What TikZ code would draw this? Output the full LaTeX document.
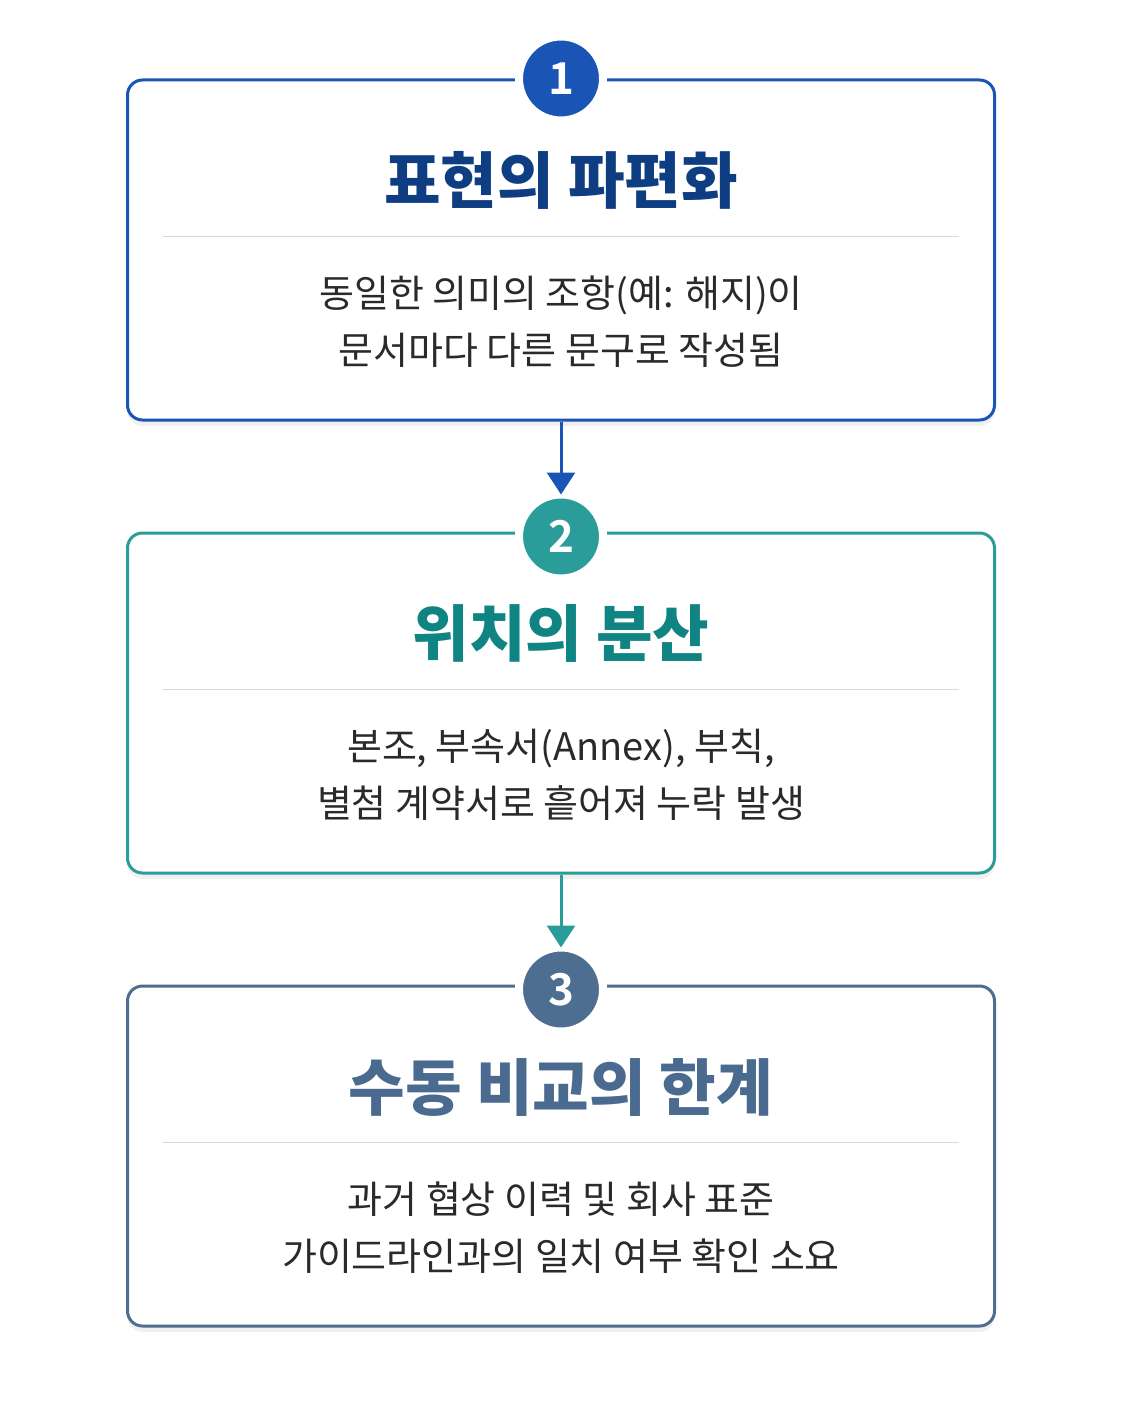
\documentclass[tikz,border=0pt]{standalone}
\usepackage{fontspec}
\setmainfont{Noto Sans CJK KR}[BoldFont={Noto Sans CJK KR Bold}]
\newfontfamily\heavyfont{Noto Sans CJK KR Black}
\usepackage{tikz}
\usetikzlibrary{arrows.meta, positioning, shadows, calc}

\definecolor{blueline}{HTML}{1A55B5}
\definecolor{bluetitle}{HTML}{0F3D82}
\definecolor{tealline}{HTML}{2A9C99}
\definecolor{tealtitle}{HTML}{0F8483}
\definecolor{slateline}{HTML}{4D6D91}
\definecolor{slatetitle}{HTML}{4A6A8F}
\definecolor{bodytext}{HTML}{2A2A2A}
\definecolor{sepline}{HTML}{D6D9DD}

\begin{document}
\begin{tikzpicture}[
            block/.style={rectangle, draw, line width=0.06cm, rounded corners=0.3cm, fill=white,
                minimum height=6.8cm, minimum width=17.34cm,
                drop shadow={opacity=0.12, shadow xshift=0cm, shadow yshift=-0.12cm}},
            badge/.style={circle, draw=white, line width=0.16cm, minimum size=1.68cm, inner sep=0pt,
                outer sep=0pt, text=white, font=\bfseries\fontsize{25}{27}\selectfont},
            title/.style={font=\heavyfont\fontsize{35}{40}\selectfont},
            body/.style={align=center, text=bodytext, font=\fontsize{21.6}{32.4}\selectfont},
            sep/.style={draw=sepline, line width=0.03cm},
            flow/.style={line width=0.06cm, -{Triangle[width=0.56cm,length=0.44cm]}},
            node distance=2.2cm
        ]
        \useasboundingbox (0,0) rectangle (22.44,-28.04);

        % boxes
        \node[block, draw=blueline] (box1) at (11.22,-5.0) {};
        \node[block, draw=tealline, below=of box1] (box2) {};
        \node[block, draw=slateline, below=of box2] (box3) {};

        % badges
        \node[badge, fill=blueline] (num1) at (box1.north) {1};
        \node[badge, fill=tealline] (num2) at ([yshift=-0.1cm]box2.north) {2};
        \node[badge, fill=slateline] (num3) at ([yshift=-0.1cm]box3.north) {3};

        % titles
        \node[title, text=bluetitle] (title1) at ([yshift=-2.04cm]box1.north) {표현의 파편화};
        \node[title, text=tealtitle] (title2) at ([yshift=-2.04cm]box2.north) {위치의 분산};
        \node[title, text=slatetitle] (title3) at ([yshift=-2.06cm]box3.north) {수동 비교의 한계};

        % separators
        \foreach \i in {1,2,3} {
            \draw[sep] ($(box\i.north west)+(0.74,-3.16)$) -- ($(box\i.north east)+(-0.74,-3.16)$);
        }

        % bodies
        \node[body] (text1) at ([yshift=-4.86cm]box1.north) {동일한 의미의 조항(예: 해지)이\\문서마다 다른 문구로 작성됨};
        \node[body] (text2) at ([yshift=-4.86cm]box2.north) {본조, 부속서(Annex), 부칙,\\별첨 계약서로 흩어져 누락 발생};
        \node[body] (text3) at ([yshift=-4.86cm]box3.north) {과거 협상 이력 및 회사 표준\\가이드라인과의 일치 여부 확인 소요};

        % arrows
        \draw[flow, blueline] (box1.south) -- (num2.north);
        \draw[flow, tealline] (box2.south) -- (num3.north);

    \end{tikzpicture}
\end{document}
